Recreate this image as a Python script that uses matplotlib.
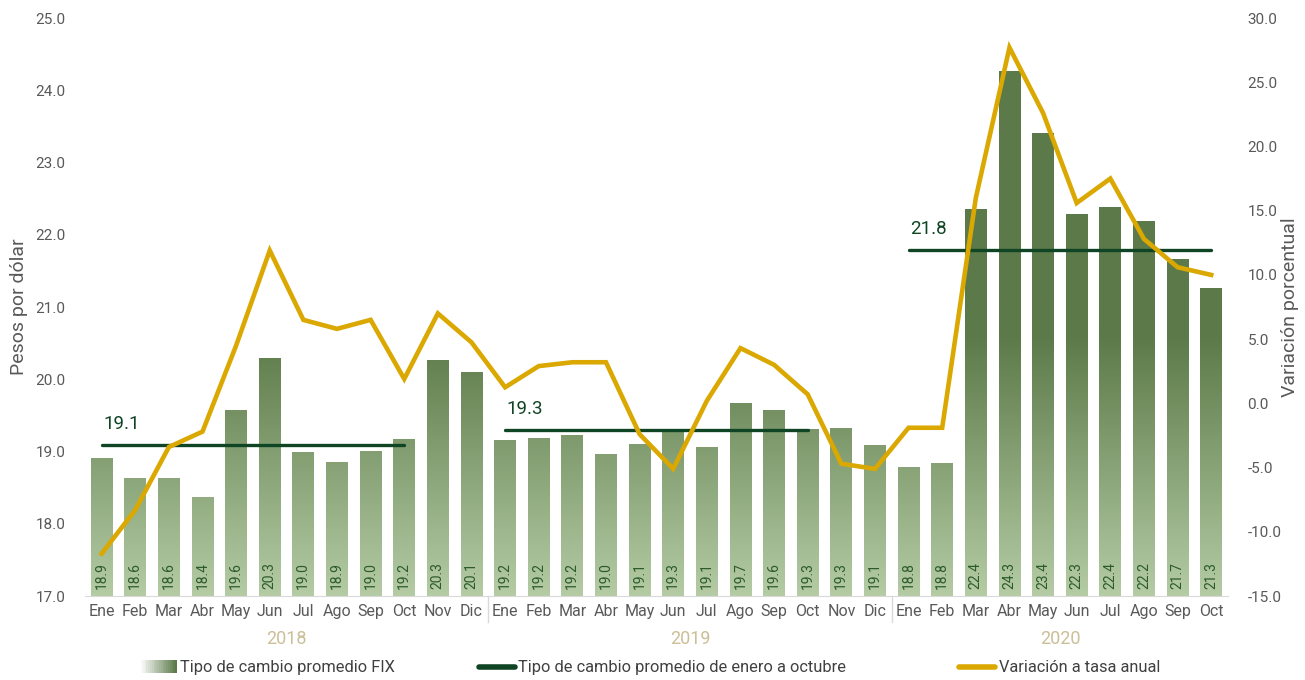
import numpy as np
import matplotlib
matplotlib.use('Agg')
import matplotlib.pyplot as plt
from matplotlib.colors import LinearSegmentedColormap, Normalize
from matplotlib.legend_handler import HandlerBase
from matplotlib.patches import Rectangle
from matplotlib.lines import Line2D
from matplotlib import transforms

plt.rcParams['font.family'] = ['Roboto', 'DejaVu Sans']

# data
years = ['2018', '2019', '2020']
month_names = ['Ene', 'Feb', 'Mar', 'Abr', 'May', 'Jun',
               'Jul', 'Ago', 'Sep', 'Oct', 'Nov', 'Dic']
months = month_names + month_names + month_names[:10]

fix = [18.91, 18.64, 18.63, 18.37, 19.57, 20.29, 18.99, 18.86, 19.01, 19.17, 20.26, 20.10,
       19.16, 19.19, 19.23, 18.97, 19.10, 19.27, 19.06, 19.67, 19.57, 19.31, 19.32, 19.09,
       18.79, 18.84, 22.36, 24.26, 23.41, 22.29, 22.38, 22.19, 21.66, 21.26]

var_anual = [-11.7, -8.3, -3.4, -2.2, 4.5, 11.9, 6.5, 5.8, 6.5, 1.9, 7.0, 4.75,
             1.25, 2.9, 3.2, 3.2, -2.4, -5.1, 0.2, 4.3, 3.0, 0.7, -4.7, -5.1,
             -1.9, -1.9, 16.0, 27.7, 22.6, 15.6, 17.5, 12.8, 10.6, 10.0]

avg_ene_oct = [19.09, 19.30, 21.79]

GREEN_DARK = '#5c7a49'
GREEN_LIGHT = '#b4cba4'
AVG_COLOR = '#0f4424'
YELLOW = '#daa800'
GRAY = '#595959'
TAN = '#cbbf98'

cmap = LinearSegmentedColormap.from_list('fix', [GREEN_LIGHT, GREEN_DARK])
norm = Normalize(17.0, 20.6)


class GradientHandler(HandlerBase):
    # legend patch fading from white to the bar green
    def create_artists(self, legend, orig_handle, xdescent, ydescent,
                       width, height, fontsize, trans):
        lcmap = LinearSegmentedColormap.from_list('lg', ['#ffffff', GREEN_DARK])
        n = 20
        arts = []
        for i in range(n):
            r = Rectangle((-xdescent + width * i / n, -ydescent), width / n + 0.3, height,
                          facecolor=lcmap((i + 1) / n), edgecolor='none', transform=trans)
            arts.append(r)
        return arts


fig = plt.figure(figsize=(13.05, 6.8), dpi=100)
ax = fig.add_axes([0.065, 0.1235, 0.876, 0.85])
ax2 = ax.twinx()

x = np.arange(len(fix))
bars = ax.bar(x, np.array(fix) - 17.0, bottom=17.0, width=0.65, color='none', edgecolor='none')
for b in bars:
    x0, w, h = b.get_x(), b.get_width(), b.get_y() + b.get_height()
    grad = np.linspace(17.0, h, 200).reshape(-1, 1)
    im = ax.imshow(grad, extent=[x0, x0 + w, 17.0, h], origin='lower',
                   cmap=cmap, norm=norm, aspect='auto', zorder=1)
    im.set_clip_path(b)

for xi, v in zip(x, fix):
    ax.text(xi, 17.1, '%.1f' % v, rotation=90, ha='center', va='bottom',
            fontsize=10, color='#2c5a2c', zorder=3)

# average Jan-Oct lines
for k, a in enumerate(avg_ene_oct):
    s = k * 12
    ax.plot([x[s], x[s + 9]], [a, a], color=AVG_COLOR, lw=2.4, zorder=4,
            solid_capstyle='round')
    ax.text(x[s] + 0.05, a + 0.17, '%.1f' % a, fontsize=13.5, color=AVG_COLOR,
            ha='left', va='bottom', zorder=4)

ax2.plot(x, var_anual, color=YELLOW, lw=3.3, solid_joinstyle='miter', zorder=5)

ax.set_xlim(-0.5, len(fix) - 0.5)
ax.set_ylim(17.0, 25.0)
ax.set_yticks(np.arange(17.0, 25.01, 1.0))
ax.set_yticklabels(['%.1f' % t for t in np.arange(17.0, 25.01, 1.0)])
ax2.set_ylim(-15.0, 30.0)
ax2.set_yticks(np.arange(-15.0, 30.01, 5.0))
ax2.set_yticklabels(['%.1f' % t for t in np.arange(-15.0, 30.01, 5.0)])

ax.set_xticks(x)
ax.set_xticklabels(months)

for a_ in (ax, ax2):
    for sp in a_.spines.values():
        sp.set_visible(False)
    a_.tick_params(length=0, labelsize=11, labelcolor=GRAY)
ax.spines['bottom'].set_visible(True)
ax.spines['bottom'].set_color('#d9d9d9')
ax.tick_params(axis='x', pad=6, labelsize=11.5)
ax.tick_params(axis='y', pad=14)
ax2.tick_params(axis='y', pad=14)

ax.set_ylabel('Pesos por dólar', fontsize=14, color=GRAY)
ax.yaxis.set_label_coords(-0.05, 0.5)
ax2.set_ylabel('Variación porcentual', fontsize=14, color=GRAY, rotation=90)
ax2.yaxis.set_label_coords(1.046, 0.5)

# year labels and separators
tr = transforms.blended_transform_factory(ax.transData, ax.transAxes)
for k, yr in enumerate(years):
    idx = [i for i in range(len(months)) if i // 12 == k]
    ax.text((idx[0] + idx[-1]) / 2.0, -0.075, yr, transform=tr, ha='center', va='center',
            fontsize=13, color=TAN)
    if k > 0:
        ax.plot([k * 12 - 0.5] * 2, [0, -0.045], transform=tr, color='#d9d9d9',
                lw=1, clip_on=False)

# legend
h1 = Rectangle((0, 0), 1, 1)
h2 = Line2D([], [], color=AVG_COLOR, lw=4, solid_capstyle='round')
h3 = Line2D([], [], color=YELLOW, lw=4, solid_capstyle='round')
common = dict(frameon=False, loc='center left', fontsize=11.8, borderpad=0,
              borderaxespad=0, handletextpad=0.2, handlelength=2.2,
              labelcolor='#404040')
fig.legend([h1], ['Tipo de cambio promedio FIX'], bbox_to_anchor=(0.108, 0.018),
           handler_map={Rectangle: GradientHandler()}, handleheight=0.8, **common)
fig.legend([h2], ['Tipo de cambio promedio de enero a octubre'],
           bbox_to_anchor=(0.367, 0.018), **common)
fig.legend([h3], ['Variación a tasa anual'], bbox_to_anchor=(0.735, 0.018), **common)

fig.savefig('out.png', dpi=100)
